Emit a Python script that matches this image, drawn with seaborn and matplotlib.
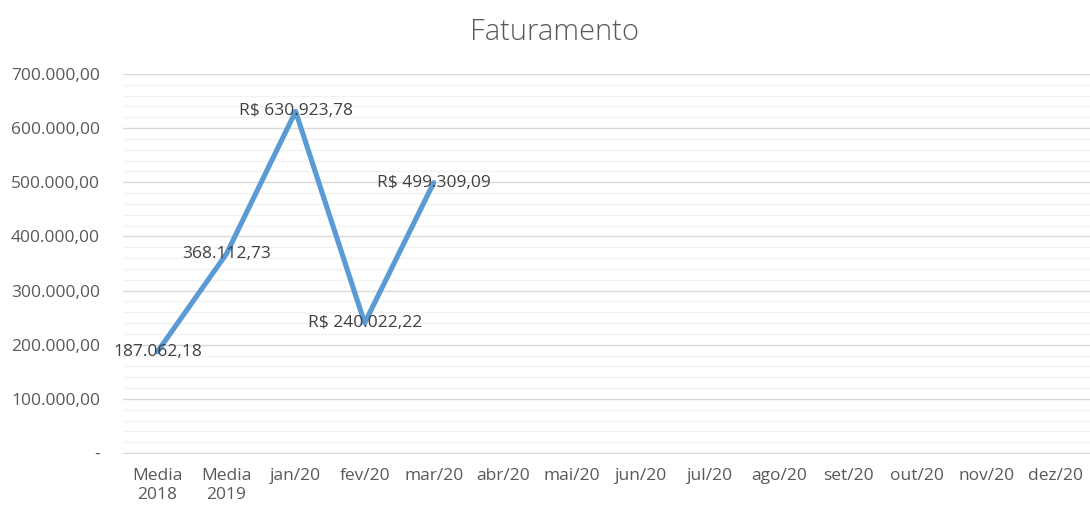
import numpy as np
import matplotlib
matplotlib.use('Agg')
import matplotlib.pyplot as plt
import seaborn as sns
import pandas as pd

# dados do gráfico
categorias = ['Media\n2018', 'Media\n2019', 'jan/20', 'fev/20', 'mar/20', 'abr/20', 'mai/20',
              'jun/20', 'jul/20', 'ago/20', 'set/20', 'out/20', 'nov/20', 'dez/20']
valores = [187062.18, 368112.73, 630923.78, 240022.22, 499309.09]
prefixos = ['', '', 'R$ ', 'R$ ', 'R$ ']
y_ticks = [0, 100000, 200000, 300000, 400000, 500000, 600000, 700000]


def fmt_br(v):
    s = f"{v:,.2f}"
    return s.replace(',', 'X').replace('.', ',').replace('X', '.')


sns.set_style('white')
plt.rcParams['font.family'] = ['Open Sans', 'DejaVu Sans']

df = pd.DataFrame({'pos': np.arange(len(valores)), 'valor': valores})

fig = plt.figure(figsize=(10.9, 5.08), dpi=100)
ax = fig.add_axes([0.1128, 0.1083, 0.887, 0.7460])

# grade secundária e principal
for v in np.arange(0, 700001, 20000):
    ax.axhline(v, color='#F2F2F2' if v % 100000 else '#D9D9D9', lw=1.0, zorder=0)

sns.lineplot(data=df, x='pos', y='valor', color='#5B9BD5', linewidth=3.7, ax=ax,
             solid_capstyle='round', zorder=3)

for i, v in enumerate(valores):
    ax.text(i, v, prefixos[i] + fmt_br(v), ha='center', va='center',
            fontsize=12.5, color='#404040', zorder=4)

ax.set_xlim(-0.5, len(categorias) - 0.5)
ax.set_ylim(0, 700000)
ax.set_xticks(np.arange(len(categorias)))
ax.set_xticklabels(categorias, linespacing=1.25)
ax.set_xticks(np.arange(len(categorias) + 1) - 0.5, minor=True)
ax.tick_params(axis='x', which='major', length=0, pad=11, labelsize=12.5, labelcolor='#595959')
ax.tick_params(axis='x', which='minor', length=5, color='#D9D9D9', width=1)
ax.set_yticks(y_ticks)
ax.set_yticklabels(['-' if t == 0 else fmt_br(t) for t in y_ticks])
ax.tick_params(axis='y', length=0, pad=16.5, labelsize=12.5, labelcolor='#595959')
ax.set_xlabel('')
ax.set_ylabel('')

for s in ['top', 'right', 'left']:
    ax.spines[s].set_visible(False)
ax.spines['bottom'].set_color('#D9D9D9')

fig.text(0.509, 0.937, 'Faturamento', ha='center', va='center', fontsize=21,
         fontweight='light', color='#595959')

fig.savefig('out.png', dpi=100)
